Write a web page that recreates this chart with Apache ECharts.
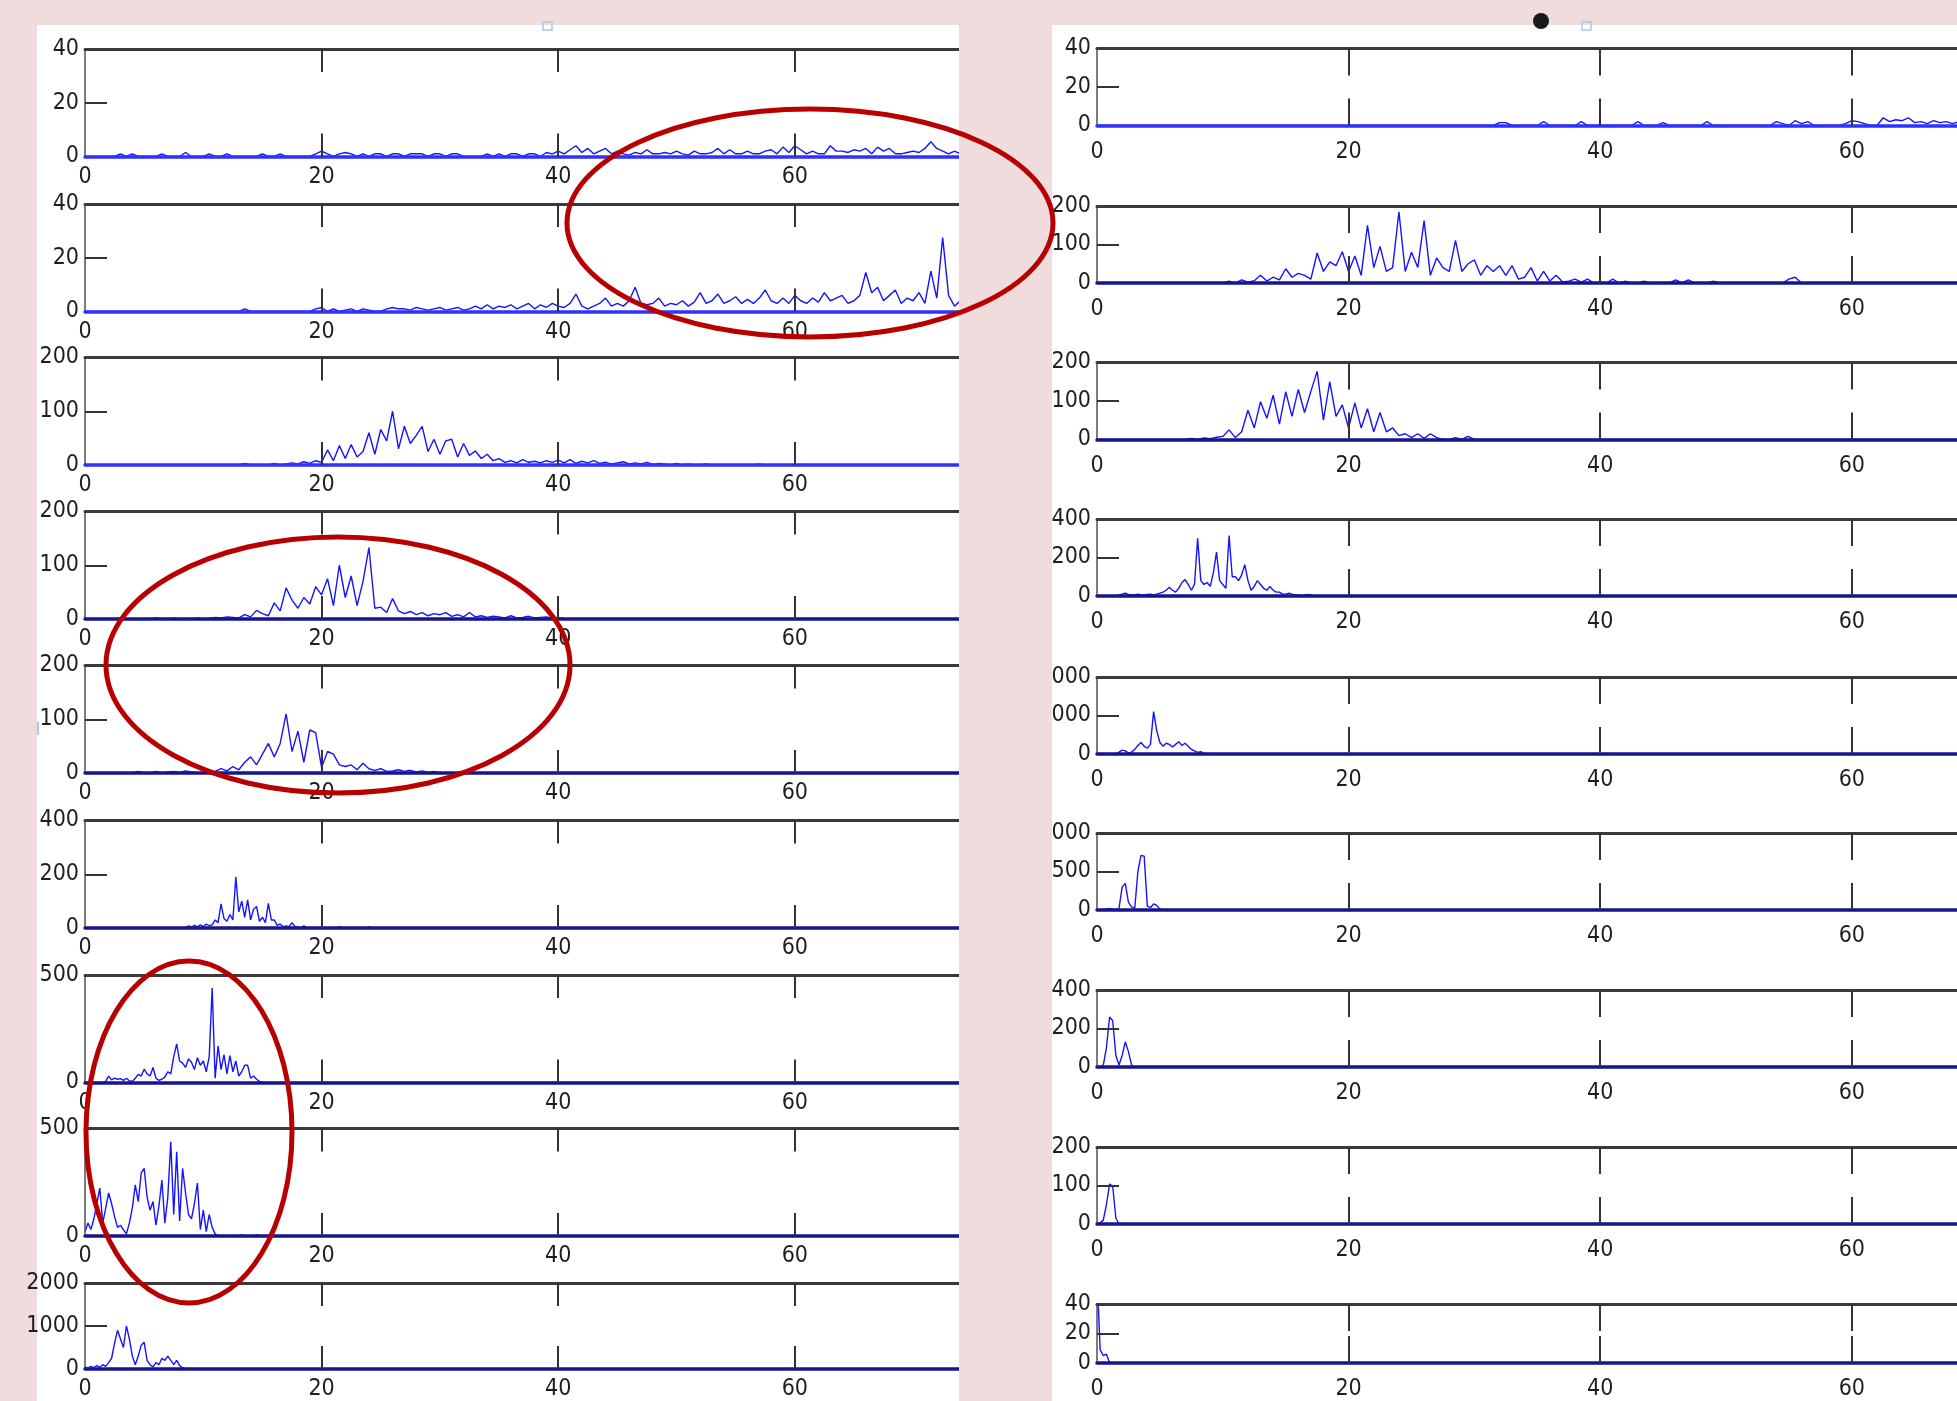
<!DOCTYPE html>
<html>
<head>
<meta charset="utf-8">
<script src="https://cdn.jsdelivr.net/npm/echarts@6/dist/echarts.min.js"></script>
<style>
  html, body { margin: 0; padding: 0; width: 1957px; height: 1401px; overflow: hidden; background: #f0dcdc; }
  .panel { position: absolute; background: #ffffff; }
  #chart { position: absolute; left: 0; top: 0; width: 1957px; height: 1401px; }
</style>
</head>
<body>
<div class="panel" style="left:37px; top:25px; width:922px; height:1376px;"></div>
<div class="panel" style="left:1052px; top:25px; width:905px; height:1376px;"></div>
<div id="chart"></div>
<script>
// ---- data: histogram traces, one array per subplot ----
// left column (top to bottom)
const l1 = [0,0,0,0,0,0, 1,0,1,0,0,0,0,1,0,0,0,1.5,0,0,0,1,0,0,1,0,0,0,0,0,1,0,0,1,0,0,0,0,0,1,
  2,1,0,1,1.5,1,0,1,0,1,1,0,1,1,0,1,1,1,0,1,1,0,1,1,0,0,0,0,1,0,1,0,1,1,0,1,1,0,1.5,1,
  2,1,2.5,4,1.5,3,1,2,3,1,2,1,0.5,1.5,1,2.5,1,1,1.5,1,2,1,0.5,2,1,1,1.5,3,1,2.5,1,1,2,1,1,2,2.5,1,3.5,1.5,
  4,2.5,1,2,1,1,4,2,2,1.5,2.5,2,3,1,3.5,2,3,1,1,1.5,2,1.5,3,5.5,3,2,1,2,1];
const l2 = [0,1, 0,0,0,0,0,0,0,0,0,0,0,
  1,1.5,0,1,0,0.5,1,0,1,0.5,0,0,1,1.5,1,1,0.5,1.5,1,0.5,1,1.5,0.5,1,1.5,0.5,1,2,1,2.5,1,2,1.5,2.5,1,2,3,1,2.5,1.5,3,
  2,1.5,3,6.5,2,1,2,3,5,2,3,2,4,9,3,2.5,3,5,2,3,2.5,4,2,3.5,7,3,4,6.5,3,4,5.5,3,4.5,3,5,8,4,3,5,3,
  6,4,3,5,3.5,7,4,5,6,3,4,6,14.5,7,9,4,6,8,3,5,4,7,3,15,5,27.5,6,2,4,2];
const l3 = [0,3,0,0,0,0,3,0,2,4,2,6,3,8,
  5,28,8,36,12,38,15,25,60,20,66,45,100,30,72,40,55,72,25,48,
  20,45,48,15,40,18,26,12,20,8,12,5,8,4,10,5,7,4,8,5,
  9,4,10,3,7,4,8,3,5,2,4,6,2,4,2,5,1,3,2,0,
  3,0,2,0,0,2,0,0,0,0,0,0,0,0,2,0,0,0,0,0,0,1,0];
const l4 = [0,2,0,0,2,0,0,0,2,0,1,3,2,4,3,2,8,4,16,10,6,30,15,58,35,20,40,28,60,45,75,25,100,40,80,25,70,133,
  20,22,12,38,15,10,14,8,12,6,10,8,12,5,8,4,12,4,6,3,5,4,2,6,2,3,5,2,3,4,2,3,1,0];
const l5 = [0,3,0,0,3,0,2,3,1,4,2,0,1,0,3,8,4,12,6,20,30,15,35,55,30,55,110,40,78,20,80,75,10,40,35,15,12,15,6,18,
  8,5,8,3,4,6,3,5,2,4,1,3,0];
const l6 = [0,8,3,10,4,12,5,15,8,12,30,20,90,35,25,50,30,190,60,100,40,105,30,70,80,25,40,20,92,30,30,10,15,5,8,5,20,5,3,0,8,0,0,0,2,0,
  0,0,0,0,0,0,5,0, 0,0,0,0,0,0,0,0,5,0];
const l7 = [0,0,0,0,0,0,0,5,30,12,20,15,18,10,20,8,5,20,38,30,62,40,30,70,20,10,15,25,50,40,120,180,100,90,70,110,94,60,115,80,
  100,50,120,440,20,170,60,130,40,125,50,100,30,50,80,80,20,30,15,5,0];
const l8 = [20,60,30,80,150,223,60,130,200,150,90,40,50,30,10,60,130,238,160,292,315,180,120,160,50,140,260,60,180,438,
  100,392,70,315,200,100,80,150,246,30,120,20,100,40,10,0,0,0,0,0,0,0,0,5,0,0,0,0,5,0];
const l9 = [50,20,60,30,80,40,100,60,150,250,600,900,700,500,1000,700,300,100,300,550,620,200,100,50,150,100,250,200,300,200,100,200,80,30,0];

// right column (top to bottom)
const r1 = [0,1.5,1.5,0,0,0,0,0,2,0,0,0,0,0,2,0,0,0,0,0,0,0,0,2,0,0,0,1.5,0,0,0,0,0,0,2,0,
  0,0,0,0,0,0,0,0,0,
  2,1,0,2.5,1,2,0,0,0,0,0,1,2.5,2,1,0,0,4,2,3,2.5,4,1.5,2,1,2.5,1.5,2,1,2,1];
const r2 = [0,5,0,8,2,6,20,5,15,8,37,15,25,20,10,78,30,55,45,81,30,70,20,150,40,95,30,40,185,30,80,40,162,20,65,40,30,111,30,50,
  60,20,45,30,45,20,45,10,15,40,5,30,5,20,3,5,10,2,10,0,2,0,10,0,5,0,0,5,0,0,0,0,8,0,8,0,0,0,5,0,0,0,0,0,0,0,0,0,0,0,10,15,0];
const r3 = [0,3,0,4,2,6,8,25,5,20,76,30,98,55,115,40,124,60,130,70,125,177,50,150,60,90,30,95,30,80,20,70,20,30,10,15,5,15,3,15,5,0,0,5,0,8,0];
const r4 = [0,5,10,15,8,5,5,10,5,5,8,10,5,10,15,20,30,45,30,20,40,70,85,60,30,60,300,80,60,70,50,120,228,80,60,40,314,100,100,80,
  110,163,80,30,50,80,60,40,30,50,30,20,20,10,10,15,10,5,5,0,5,8,5,0];
const r5 = [0,50,100,80,30,50,120,220,300,200,150,250,1100,600,300,200,280,250,180,250,320,220,280,200,120,80,40,60,20,0];
const r6 = [0,0,5,15,20,10,5,20,300,345,100,40,20,500,710,700,50,30,80,60,10,0];
const r7 = [0,0,10,100,260,240,60,10,60,130,80,10,0];
const r8 = [0,3,10,50,104,98,15,0];
const r9 = [60,9,5,6,0];

// x position of the first sample and sample spacing for each trace
const leftStart  = [0, 13, 13, 5.5, 4, 8.5, 0, 0, 0];
const leftStep   = [0.5, 0.5, 0.5, 0.5, 0.5, 0.25, 0.25, 0.25, 0.25];
const rightStart = [31.5, 10, 7, 1.5, 1.5, 0, 0, 0, 0];
const rightStep  = [0.5, 0.5, 0.5, 0.25, 0.25, 0.25, 0.25, 0.25, 0.25];

// y limits and tick labels
const leftYMax  = [40, 40, 200, 200, 200, 400, 500, 500, 2000];
const rightYMax = [40, 200, 200, 400, 2000, 1000, 400, 200, 40];
const xTickLabels = [0, 20, 40, 60];
const xTickMarks = [20, 40, 60];

const leftData  = [l1, l2, l3, l4, l5, l6, l7, l8, l9];
const rightData = [r1, r2, r3, r4, r5, r6, r7, r8, r9];

// ---- layout of the two subplot columns ----
const FONT = "'Liberation Sans Narrow', 'Arial Narrow', 'DejaVu Sans Condensed', 'Liberation Sans', Arial, sans-serif";
const columns = [
  { left: 85, unit: 11.83, xMax: 80, tops: [49, 204, 357.5, 511.5, 665.5, 820.5, 975, 1128.5, 1283], height: 107.5,
    tickLen: 23, xLabelGap: 9, data: leftData, starts: leftStart, steps: leftStep, yMax: leftYMax,
    baseColor: ['#3030ff', '#3030ff', '#3030ff', '#16168c', '#16168c', '#16168c', '#16168c', '#16168c', '#16168c'] },
  // the right column runs off the page edge, so its x range stops at the edge
  { left: 1097, unit: 12.58, xMax: 68.35, tops: [48.5, 206, 362.5, 519, 677, 833, 990, 1147, 1304], height: 77,
    tickLen: 27, xLabelGap: 15, data: rightData, starts: rightStart, steps: rightStep, yMax: rightYMax,
    baseColor: ['#3030ff', '#16168c', '#16168c', '#16168c', '#16168c', '#16168c', '#16168c', '#16168c', '#16168c'] }
];

function toPoints(start, step, vals, xMax) {
  const pts = [];
  if (start > 0) pts.push([0, 0]);
  vals.forEach((v, i) => pts.push([start + i * step, v]));
  const last = start + (vals.length - 1) * step;
  if (vals[vals.length - 1] !== 0) pts.push([last + step, 0]);
  if (last + step < xMax) pts.push([xMax, 0]);
  return pts;
}

const grids = [], xAxes = [], yAxes = [], series = [];
const labelStyle = { color: '#1e1e1e', fontSize: 23, fontFamily: FONT };
const plain = v => String(v);
const xLabelFmt = v => (xTickLabels.indexOf(v) >= 0 ? String(v) : '');

columns.forEach(col => {
  col.data.forEach((vals, r) => {
    const g = grids.length;
    const M = col.yMax[r];
    const mid = M === 500 ? null : M / 2;
    grids.push({ left: col.left, top: col.tops[r], width: col.xMax * col.unit, height: col.height, containLabel: false });
    // bottom axis with labels
    xAxes.push({
      type: 'value', gridIndex: g, min: 0, max: col.xMax, interval: 20, position: 'bottom', z: 5,
      axisLine: { show: true, onZero: false, lineStyle: { color: col.baseColor[r], width: 3.5 } },
      axisTick: { show: true, inside: true, length: col.tickLen, customValues: xTickMarks,
                  lineStyle: { color: '#333333', width: 2 } },
      axisLabel: Object.assign({ show: true, margin: col.xLabelGap, customValues: xTickLabels, formatter: xLabelFmt }, labelStyle),
      splitLine: { show: false }
    });
    // top edge of the box
    xAxes.push({
      type: 'value', gridIndex: g, min: 0, max: col.xMax, interval: 20, position: 'top', z: 5,
      axisLine: { show: true, onZero: false, lineStyle: { color: '#3a3a3a', width: 3 } },
      axisTick: { show: true, inside: true, length: col.tickLen, customValues: xTickMarks,
                  lineStyle: { color: '#333333', width: 2 } },
      axisLabel: { show: false },
      splitLine: { show: false }
    });
    yAxes.push({
      type: 'value', gridIndex: g, min: 0, max: M, interval: mid === null ? M : mid, z: 5,
      axisLine: { show: true, onZero: false, lineStyle: { color: '#505050', width: 1.5 } },
      axisTick: { show: mid !== null, inside: true, length: 22, customValues: mid === null ? [] : [mid],
                  lineStyle: { color: '#333333', width: 2 } },
      axisLabel: Object.assign({ show: true, margin: 6, customValues: mid === null ? [0, M] : [0, mid, M], formatter: plain }, labelStyle),
      splitLine: { show: false }
    });
    series.push({
      type: 'line', xAxisIndex: 2 * g, yAxisIndex: g, data: toPoints(col.starts[r], col.steps[r], vals, col.xMax),
      showSymbol: false, symbol: 'none', clip: true, silent: true, z: 2,
      lineStyle: { color: '#1414ff', width: 1.4 }
    });
  });
});

const graphic = [
  // gap between the two panels
  { type: 'rect', z: 50, silent: true, shape: { x: 959, y: 0, width: 93, height: 1401 }, style: { fill: '#f0dcdc' } },
  // small marks along the panel tops
  { type: 'rect', z: 51, silent: true, shape: { x: 543, y: 22, width: 9, height: 8 }, style: { fill: 'none', stroke: '#a9c8e6', lineWidth: 1.5 } },
  { type: 'circle', z: 51, silent: true, shape: { cx: 1541, cy: 21, r: 8 }, style: { fill: '#1a1a1a' } },
  { type: 'rect', z: 51, silent: true, shape: { x: 1582, y: 22, width: 9, height: 8 }, style: { fill: 'none', stroke: '#a9c8e6', lineWidth: 1.5 } },
  { type: 'rect', z: 51, silent: true, shape: { x: 37, y: 722, width: 2, height: 13 }, style: { fill: '#a9c8e6' } },
  // highlight rings
  { type: 'ellipse', z: 60, silent: true, shape: { cx: 810, cy: 223, rx: 243, ry: 114 }, style: { fill: 'none', stroke: '#b80000', lineWidth: 5 } },
  { type: 'ellipse', z: 60, silent: true, shape: { cx: 338, cy: 665, rx: 232, ry: 128 }, style: { fill: 'none', stroke: '#b80000', lineWidth: 5 } },
  { type: 'ellipse', z: 60, silent: true, shape: { cx: 189, cy: 1132, rx: 103, ry: 171 }, style: { fill: 'none', stroke: '#b80000', lineWidth: 5 } }
];

const chart = echarts.init(document.getElementById('chart'), null, { renderer: 'canvas' });
chart.setOption({
  backgroundColor: 'transparent',
  animation: false,
  grid: grids,
  xAxis: xAxes,
  yAxis: yAxes,
  series: series,
  graphic: graphic
});
</script>
</body>
</html>
